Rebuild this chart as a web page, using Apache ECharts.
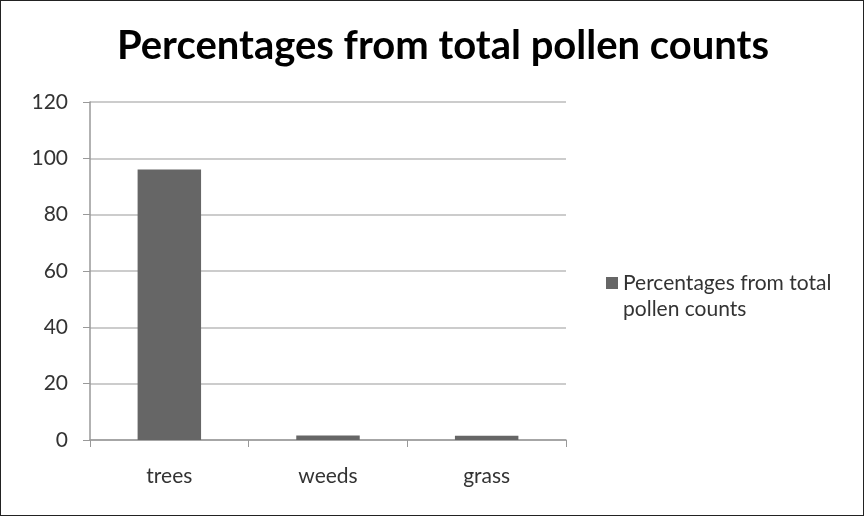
<!DOCTYPE html>
<html>
<head>
<meta charset="utf-8">
<script src="https://cdn.jsdelivr.net/npm/echarts@6/dist/echarts.min.js"></script>
<style>
  html, body { margin: 0; padding: 0; background: #fff; }
  #chart { width: 862px; height: 514px; border: 1px solid #222; }
</style>
</head>
<body>
<div id="chart"></div>
<script>
// Pollen share by source type
const categories = ['trees', 'weeds', 'grass'];
const percentages = [96, 1.6, 1.5];
const seriesName = 'Percentages from total pollen counts';
const legendLines = ['Percentages from total', 'pollen counts'];
const yTicks = { min: 0, max: 120, interval: 20 };

const chart = echarts.init(document.getElementById('chart'), null, { renderer: 'canvas' });
const labelFont = 'Lato, "Open Sans", sans-serif';

chart.setOption({
  animation: false,
  backgroundColor: '#fff',
  title: {
    text: 'Percentages from total pollen counts',
    left: 437,
    textAlign: 'center',
    top: 20,
    textStyle: { fontFamily: labelFont, fontWeight: 'bold', fontSize: 40, color: '#000' }
  },
  // Legend swatch sits beside the first line; the wrapped remainder follows below it
  legend: {
    left: 600,
    top: 264,
    orient: 'vertical',
    itemWidth: 12,
    itemHeight: 12,
    icon: 'rect',
    formatter: () => legendLines[0],
    textStyle: { fontFamily: labelFont, fontSize: 21, color: '#333', lineHeight: 26 }
  },
  graphic: [{
    type: 'text',
    left: 622,
    top: 298,
    silent: true,
    style: { text: legendLines[1], font: '21px ' + labelFont, fill: '#333' }
  }],
  grid: { left: 89, right: 297, top: 101, bottom: 75, containLabel: false },
  xAxis: {
    type: 'category',
    data: categories,
    axisLine: { lineStyle: { color: '#999', width: 1.5 } },
    axisTick: { show: true, length: 7, lineStyle: { color: '#999' } },
    axisLabel: { fontFamily: labelFont, fontSize: 21, color: '#333', margin: 26 }
  },
  yAxis: {
    type: 'value',
    min: yTicks.min,
    max: yTicks.max,
    interval: yTicks.interval,
    axisLine: { show: true, lineStyle: { color: '#999', width: 1.5 } },
    axisTick: { show: true, length: 7, lineStyle: { color: '#999' } },
    axisLabel: { fontFamily: labelFont, fontSize: 21, color: '#333', margin: 22 },
    splitLine: { lineStyle: { color: '#bbb', width: 1.5 } }
  },
  series: [{
    name: seriesName,
    type: 'bar',
    data: percentages,
    barWidth: '40%',
    itemStyle: { color: '#666' }
  }]
});
</script>
</body>
</html>
